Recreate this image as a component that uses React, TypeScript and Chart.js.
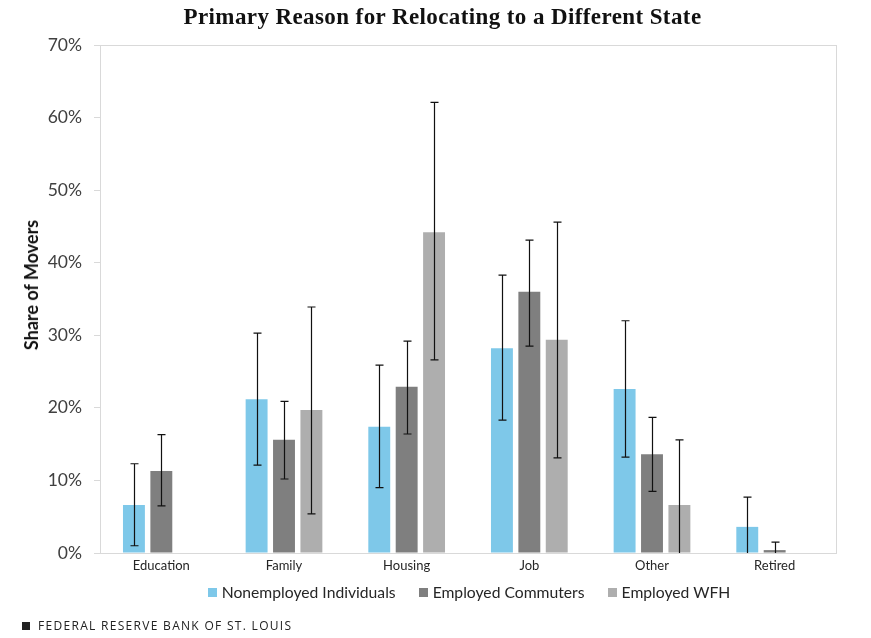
import React, { useEffect, useRef } from "react";
import { Chart, registerables } from "chart.js";

Chart.register(...registerables);

const categories = ["Education", "Family", "Housing", "Job", "Other", "Retired"];
const seriesNames = ["Nonemployed Individuals", "Employed Commuters", "Employed WFH"];
const seriesColors = ["#7EC8E9", "#7F7F7F", "#AEAEAE"];

const nonemployed = [6.6, 21.2, 17.4, 28.2, 22.6, 3.6];
const nonemployedLow = [1.0, 12.1, 9.0, 18.3, 13.2, -0.5];
const nonemployedHigh = [12.3, 30.3, 25.9, 38.3, 32.0, 7.7];

const commuters = [11.3, 15.6, 22.9, 36.0, 13.6, 0.4];
const commutersLow = [6.5, 10.2, 16.4, 28.5, 8.5, -0.7];
const commutersHigh = [16.3, 20.9, 29.2, 43.1, 18.7, 1.5];

const wfh = [null, 19.7, 44.2, 29.4, 6.6, null];
const wfhLow = [null, 5.4, 26.6, 13.1, -2.4, null];
const wfhHigh = [null, 33.9, 62.1, 45.6, 15.6, null];

const yTicks = [0, 10, 20, 30, 40, 50, 60, 70];

const lows = [nonemployedLow, commutersLow, wfhLow];
const highs = [nonemployedHigh, commutersHigh, wfhHigh];

const FONT = "Lato, 'Open Sans', sans-serif";

const errorBarPlugin = {
  id: "errorBars",
  afterDatasetsDraw(chart: any) {
    const ctx = chart.ctx;
    const yScale = chart.scales.y;
    const area = chart.chartArea;
    ctx.save();
    ctx.beginPath();
    ctx.rect(area.left, area.top, area.right - area.left, area.bottom - area.top);
    ctx.clip();
    ctx.strokeStyle = "#111111";
    ctx.lineWidth = 1.2;
    chart.data.datasets.forEach((ds: any, i: number) => {
      const meta = chart.getDatasetMeta(i);
      meta.data.forEach((el: any, j: number) => {
        const lo = lows[i][j];
        const hi = highs[i][j];
        if (lo == null || hi == null) return;
        const x = Math.round(el.x) + 0.5;
        const yHi = yScale.getPixelForValue(hi);
        const yLo = yScale.getPixelForValue(lo);
        ctx.beginPath();
        ctx.moveTo(x, yHi);
        ctx.lineTo(x, yLo);
        ctx.moveTo(x - 4, yHi);
        ctx.lineTo(x + 4, yHi);
        ctx.moveTo(x - 4, yLo);
        ctx.lineTo(x + 4, yLo);
        ctx.stroke();
      });
    });
    ctx.restore();
  },
};

const framePlugin = {
  id: "frame",
  beforeDatasetsDraw(chart: any) {
    const ctx = chart.ctx;
    const a = chart.chartArea;
    ctx.save();
    ctx.strokeStyle = "#D9D9D9";
    ctx.lineWidth = 1;
    ctx.strokeRect(Math.round(a.left) + 0.5, Math.round(a.top) + 0.5, Math.round(a.right - a.left), Math.round(a.bottom - a.top));
    ctx.restore();
  },
};

export default function App() {
  const canvasRef = useRef<HTMLCanvasElement | null>(null);

  useEffect(() => {
    document.body.style.margin = "0";
    const canvas = canvasRef.current;
    if (!canvas) return;
    const chart = new Chart(canvas, {
      type: "bar",
      data: {
        labels: categories,
        datasets: [nonemployed, commuters, wfh].map((d, i) => ({
          label: seriesNames[i],
          data: d as any,
          backgroundColor: seriesColors[i],
          borderWidth: 0,
          categoryPercentage: 0.67,
          barPercentage: 0.8,
        })),
      },
      options: {
        animation: false,
        responsive: false,
        devicePixelRatio: 1,
        layout: { padding: { top: 45, right: 35, bottom: 55, left: 0 } },
        plugins: {
          legend: { display: false },
          title: { display: false },
          tooltip: { enabled: false },
        },
        scales: {
          x: {
            grid: { display: false, drawTicks: false },
            border: { display: true, color: "#D9D9D9" },
            ticks: {
              color: "#262626",
              padding: 5,
              font: { family: FONT, size: 13 },
            },
            afterFit: (s: any) => {
              s.height = 30;
            },
          },
          y: {
            min: 0,
            max: 70,
            afterBuildTicks: (s: any) => {
              s.ticks = yTicks.map((v) => ({ value: v }));
            },
            grid: { drawOnChartArea: false, drawTicks: true, tickLength: 6, color: "#D9D9D9" },
            border: { display: true, color: "#D9D9D9" },
            ticks: {
              color: "#404040",
              padding: 12,
              font: { family: FONT, size: 17.5 },
              callback: (v: any) => v + "%",
            },
            title: { display: false },
            afterFit: (s: any) => {
              s.width = 100;
            },
          },
        },
      },
      plugins: [framePlugin, errorBarPlugin],
    });
    return () => chart.destroy();
  }, []);

  return (
    <div style={{ position: "relative", width: 871, height: 638, background: "#fff", overflow: "hidden" }}>
      <canvas ref={canvasRef} width={871} height={638} style={{ position: "absolute", left: 0, top: 0, width: 871, height: 638 }} />
      <div
        style={{
          position: "absolute",
          left: 0,
          width: 885,
          top: 4,
          textAlign: "center",
          fontFamily: "'Liberation Serif', serif",
          fontWeight: "bold",
          fontSize: 23,
          letterSpacing: 0.4,
          color: "#111",
          whiteSpace: "nowrap",
        }}
      >
        Primary Reason for Relocating to a Different State
      </div>
      <div
        style={{
          position: "absolute",
          left: 31,
          top: 285,
          transform: "translate(-50%, -50%) rotate(-90deg)",
          fontFamily: FONT,
          fontWeight: "bold",
          fontSize: 18,
          color: "#111",
          whiteSpace: "nowrap",
        }}
      >
        Share of Movers
      </div>
      <div
        style={{
          position: "absolute",
          left: 0,
          width: 938,
          top: 583,
          display: "flex",
          justifyContent: "center",
          alignItems: "center",
          fontFamily: FONT,
          fontSize: 15.7,
          color: "#262626",
          whiteSpace: "nowrap",
        }}
      >
        {seriesNames.map((n, i) => (
          <div key={n} style={{ display: "flex", alignItems: "center", marginRight: i < 2 ? 23 : 0 }}>
            <span style={{ display: "inline-block", width: 9, height: 9, background: seriesColors[i], marginRight: 5 }} />
            <span>{n}</span>
          </div>
        ))}
      </div>
      <div
        style={{
          position: "absolute",
          left: 22,
          top: 617,
          display: "flex",
          alignItems: "center",
          fontFamily: "'Open Sans', sans-serif",
          fontSize: 12,
          letterSpacing: 1.3,
          color: "#222",
          whiteSpace: "nowrap",
        }}
      >
        <span style={{ display: "inline-block", width: 8, height: 8, background: "#222", marginRight: 8 }} />
        <span>FEDERAL RESERVE BANK OF ST. LOUIS</span>
      </div>
    </div>
  );
}
